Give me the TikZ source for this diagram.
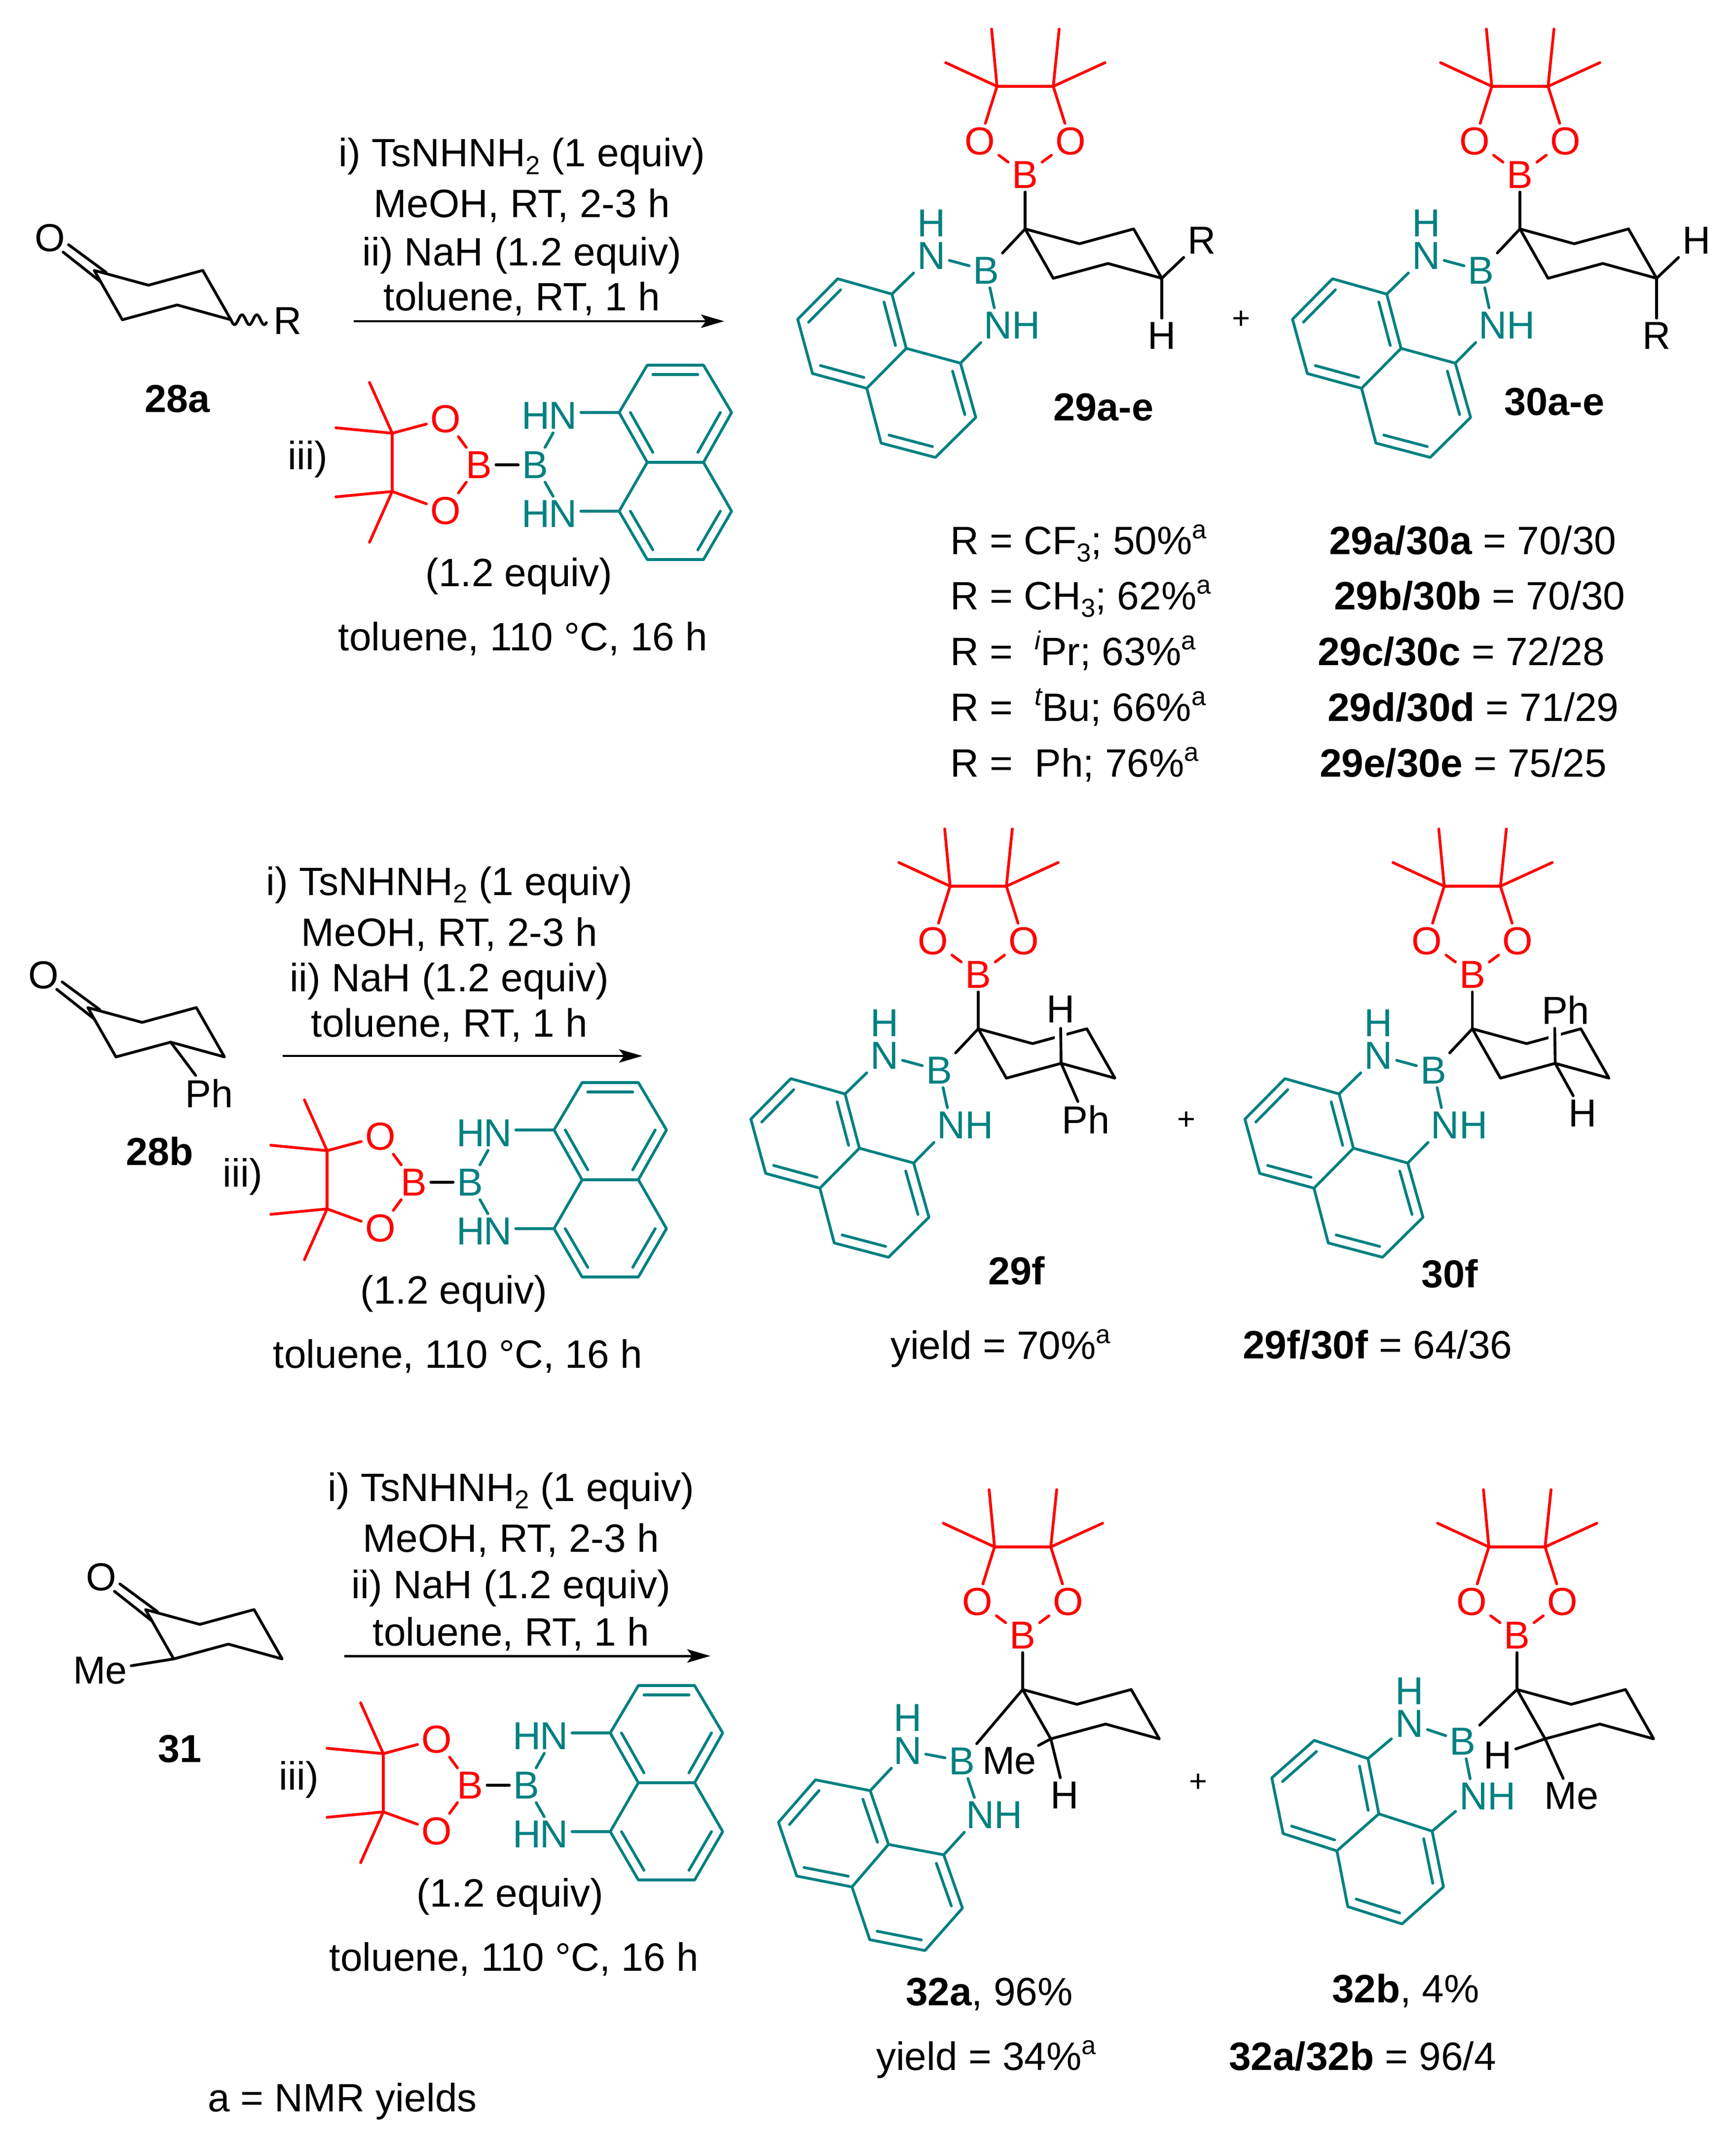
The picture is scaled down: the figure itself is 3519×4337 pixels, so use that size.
\documentclass[tikz,border=0pt]{standalone}
\usepackage{fontspec}
\setmainfont{Liberation Sans}
\usetikzlibrary{arrows.meta,calc}
\definecolor{bnteal}{RGB}{0,128,128}
\definecolor{pinred}{RGB}{255,0,0}
\newcommand{\chemsup}[1]{\raisebox{9pt}{\fontsize{15}{17}\selectfont #1}}
\newcommand{\chemsub}[1]{\raisebox{-4.5pt}{\fontsize{15}{17}\selectfont #1}}
\tikzset{
  bond/.style={line width=1.6pt,line cap=round,line join=round},
  blkbond/.style={bond,draw=black},
  redbond/.style={bond,draw=pinred},
  tealbond/.style={bond,draw=bnteal},
  halo/.style={line width=7pt,draw=white},
  atomblk/.style={inner sep=0.08cm,outer sep=0pt,text=black,font=\fontsize{22.5}{26}\selectfont},
  atomred/.style={atomblk,text=pinred},
  atomteal/.style={atomblk,text=bnteal},
  txt/.style={inner sep=0pt,outer sep=0pt,anchor=base,font=\fontsize{22.8}{27}\selectfont},
  txtl/.style={txt,anchor=base west},
  boldlbl/.style={txt,font=\fontsize{22.5}{27}\selectfont\bfseries},
  plusnode/.style={inner sep=0pt,font=\fontsize{18}{21}\selectfont},
  rxnarrow/.style={line width=1.4pt,-{Stealth[length=0.47cm,width=0.27cm,inset=0.1cm]}}
}
% chair ring, first vertex at the local origin
\newcommand{\Chair}[1]{%
  \coordinate (#1v1) at (0,0);
  \coordinate (#1v2) at (110,30);
  \coordinate (#1v3) at (220,0);
  \coordinate (#1v4) at (277,100);
  \coordinate (#1v5) at (168,70);
  \coordinate (#1v6) at (57,100);
  \draw[blkbond] (#1v1)--(#1v2)--(#1v3)--(#1v4)--(#1v5)--(#1v6)--cycle;
}
% pinacol boronate on the quaternary carbon
\newcommand{\PinUnit}[1]{%
  \node[atomred] (#1B) at (0,-110) {B};
  \node[atomred] (#1O1) at (-92,-178) {O};
  \node[atomred] (#1O2) at (92,-178) {O};
  \coordinate (#1Ca) at (-57,-289);
  \coordinate (#1Cb) at (57,-289);
  \coordinate (#1Ma) at (-68,-405);
  \coordinate (#1Mb) at (-161,-337);
  \coordinate (#1Mc) at (69,-405);
  \coordinate (#1Md) at (162,-337);
  \draw[redbond] (#1O1)--(#1Ca)--(#1Cb)--(#1O2);
  \draw[redbond] (#1Ca)--(#1Ma);
  \draw[redbond] (#1Ca)--(#1Mb);
  \draw[redbond] (#1Cb)--(#1Mc);
  \draw[redbond] (#1Cb)--(#1Md);
  \draw[redbond] (#1O1)--(#1B);
  \draw[redbond] (#1O2)--(#1B);
  \draw[blkbond] (#1B)--(#1v1);
}
\newcommand{\GeoA}[1]{%
  \coordinate (#1a) at (-270,132);
  \coordinate (#1b) at (-380,101);
  \coordinate (#1c) at (-461,183);
  \coordinate (#1d) at (-431,293);
  \coordinate (#1e) at (-321,323);
  \coordinate (#1f) at (-241,242);
  \coordinate (#1g) at (-131,272);
  \coordinate (#1h) at (-100,382);
  \coordinate (#1i) at (-182,463);
  \coordinate (#1j) at (-292,434);
}
\newcommand{\GeoB}[1]{%
  \coordinate (#1a) at (-309,205);
  \coordinate (#1b) at (-420,183);
  \coordinate (#1c) at (-495,269);
  \coordinate (#1d) at (-458,378);
  \coordinate (#1e) at (-346,400);
  \coordinate (#1f) at (-272,314);
  \coordinate (#1g) at (-160,335);
  \coordinate (#1h) at (-122,443);
  \coordinate (#1i) at (-198,529);
  \coordinate (#1j) at (-310,507);
}
\newcommand{\GeoC}[1]{%
  \coordinate (#1a) at (-302,140);
  \coordinate (#1b) at (-411,103);
  \coordinate (#1c) at (-497,179);
  \coordinate (#1d) at (-474,292);
  \coordinate (#1e) at (-365,327);
  \coordinate (#1f) at (-280,252);
  \coordinate (#1g) at (-172,287);
  \coordinate (#1h) at (-149,400);
  \coordinate (#1i) at (-233,475);
  \coordinate (#1j) at (-343,440);
}
\newcommand{\GeoR}[1]{%
  \coordinate (#1a) at (-57,-101);
  \coordinate (#1b) at (0,-197);
  \coordinate (#1c) at (114,-197);
  \coordinate (#1d) at (171,-101);
  \coordinate (#1e) at (114,0);
  \coordinate (#1f) at (0,0);
  \coordinate (#1g) at (-57,99);
  \coordinate (#1h) at (0,197);
  \coordinate (#1i) at (114,197);
  \coordinate (#1j) at (171,99);
}
\newcommand{\NaphDraw}[1]{%
  \coordinate (#1L) at ($(#1a)!.5!(#1d)$);
  \coordinate (#1M) at ($(#1g)!.5!(#1j)$);
  \draw[tealbond] (#1a)--(#1b)--(#1c)--(#1d)--(#1e)--(#1f)--cycle;
  \draw[tealbond] (#1f)--(#1g)--(#1h)--(#1i)--(#1j)--(#1e);
  \draw[tealbond] ($(#1b)!.2!(#1L)$)--($(#1c)!.2!(#1L)$);
  \draw[tealbond] ($(#1a)!.2!(#1L)$)--($(#1f)!.2!(#1L)$);
  \draw[tealbond] ($(#1d)!.2!(#1L)$)--($(#1e)!.2!(#1L)$);
  \draw[tealbond] ($(#1g)!.2!(#1M)$)--($(#1h)!.2!(#1M)$);
  \draw[tealbond] ($(#1i)!.2!(#1M)$)--($(#1j)!.2!(#1M)$);
}
% diazaborine on the quaternary carbon: B, N, H, lower N positions
\newcommand{\TealUnit}[5]{%
  \node[atomteal] (#1Bn) at #2 {B};
  \node[atomteal] (#1N1) at #3 {N};
  \node[atomteal] (#1H1) at #4 {H};
  \node[atomteal] (#1N2) at #5 {N};
  \node[atomteal] (#1H2) at ([xshift=0.57cm]#1N2) {H};
  \draw[tealbond] (#1a)--(#1N1);
  \draw[tealbond] (#1g)--(#1N2);
  \draw[tealbond] (#1N1)--(#1Bn);
  \draw[tealbond] (#1Bn)--(#1N2);
  \draw[blkbond] (#1Bn)--(#1v1);
  \NaphDraw{#1}
}
% ketone: ring, C=O, oxygen
\newcommand{\Ketone}[1]{%
  \Chair{#1}
  \node[atomblk] (#1O) at (-90,-66) {O};
  \coordinate (#1p1) at (-52,-52);
  \coordinate (#1p2) at (24,4);
  \coordinate (#1p3) at (-63,-37);
  \coordinate (#1p4) at (13,23);
  \draw[blkbond] (#1p1)--(#1p2);
  \draw[blkbond] (#1p3)--(#1p4);
}
% reagent, local origin at the naphthalene fusion carbon
\newcommand{\Reagent}[1]{%
  \GeoR{#1}
  \NaphDraw{#1}
  \coordinate (#1Ca) at (-517,-59);
  \coordinate (#1Cb) at (-517,59);
  \coordinate (#1Ma) at (-563,-162);
  \coordinate (#1Mb) at (-631,-70);
  \coordinate (#1Mc) at (-631,70);
  \coordinate (#1Md) at (-563,162);
  \node[atomred] (#1O1) at (-409,-88) {O};
  \node[atomred] (#1O2) at (-409,98) {O};
  \node[atomred] (#1B) at (-341,5) {B};
  \node[atomteal] (#1Bn) at (-227,5) {B};
  \node[atomteal] (#1N1) at (-171,-95) {N};
  \node[atomteal] (#1H1) at (-226,-95) {H};
  \node[atomteal] (#1N2) at (-171,104) {N};
  \node[atomteal] (#1H2) at (-226,104) {H};
  \draw[redbond] (#1O1)--(#1Ca)--(#1Cb)--(#1O2);
  \draw[redbond] (#1Ca)--(#1Ma);
  \draw[redbond] (#1Ca)--(#1Mb);
  \draw[redbond] (#1Cb)--(#1Mc);
  \draw[redbond] (#1Cb)--(#1Md);
  \draw[redbond] (#1O1)--(#1B);
  \draw[redbond] (#1O2)--(#1B);
  \draw[blkbond] (#1B)--(#1Bn);
  \draw[tealbond] (#1Bn)--(#1N1);
  \draw[tealbond] (#1Bn)--(#1N2);
  \draw[tealbond] (#1a)--(#1a -| #1N1.east);
  \draw[tealbond] (#1g)--(#1g -| #1N2.east);
  \node[txt] (#1iii) at (-688,14) {iii)};
  \node[txt] (#1eq) at (-260,251) {(1.2 equiv)};
  \node[txt] (#1tol) at (-252,381) {toluene, 110 °C, 16 h};
}
\begin{document}
\begin{tikzpicture}[x=0.01cm,y=-0.01cm]
\path[use as bounding box,fill=white] (0,0) rectangle (3519,4337);

% ---------- row 1 ----------
\begin{scope}[shift={(191,548)}]
  \Ketone{ka}
  \node[atomblk] (kaR) at (392,102) {R};
\end{scope}
\begin{scope}[shift={(468,648)}]
  \draw[blkbond] plot[domain=0:72,samples=60,smooth] (\x,{10*sin(\x*12)});
\end{scope}
\node[boldlbl] (l28a) at (360,836) {28a};
\node[txt] (r1a) at (1058,338) {i) TsNHNH\chemsub{2} (1 equiv)};
\node[txt] (r1b) at (1058,441) {MeOH, RT, 2-3 h};
\node[txt] (r1c) at (1058,539) {ii) NaH (1.2 equiv)};
\node[txt] (r1d) at (1058,630) {toluene, RT, 1 h};
\coordinate (a1s) at (717,651);
\coordinate (a1e) at (1468,651);
\draw[rxnarrow] (a1s)--(a1e);
\begin{scope}[shift={(1312,937)}]
  \Reagent{ra}
\end{scope}

\begin{scope}[shift={(2078,464)}]
  \Chair{pa}
  \PinUnit{pa}
  \GeoA{pa}
  \TealUnit{pa}{(-79,84)}{(-190,54)}{(-190,-12)}{(-55,195)}
  \node[atomblk] (paR) at (358,23) {R};
  \node[atomblk] (paH) at (277,216) {H};
  \draw[blkbond] (pav4)--(paR);
  \draw[blkbond] (pav4)--(paH);
\end{scope}
\node[boldlbl] (l29a) at (2237,853) {29a-e};
\node[plusnode] (plus1) at (2516,648) {+};
\begin{scope}[shift={(3081,464)}]
  \Chair{qa}
  \PinUnit{qa}
  \GeoA{qa}
  \TealUnit{qa}{(-79,84)}{(-190,54)}{(-190,-12)}{(-55,195)}
  \node[atomblk] (qaH) at (358,23) {H};
  \node[atomblk] (qaR) at (277,216) {R};
  \draw[blkbond] (qav4)--(qaH);
  \draw[blkbond] (qav4)--(qaR);
\end{scope}
\node[boldlbl] (l30a) at (3151,842) {30a-e};

\node[txtl] (t1) at (1926,1123) {R = CF\chemsub{3}; 50\%\chemsup{a}};
\node[txtl] (t2) at (1926,1235) {R = CH\chemsub{3}; 62\%\chemsup{a}};
\node[txtl] (t3) at (1926,1348) {R = \ \raisebox{9pt}{\fontsize{15}{17}\selectfont\itshape i}Pr; 63\%\chemsup{a}};
\node[txtl] (t4) at (1926,1461) {R = \ \raisebox{9pt}{\fontsize{15}{17}\selectfont\itshape t}Bu; 66\%\chemsup{a}};
\node[txtl] (t5) at (1926,1574) {R = \ Ph; 76\%\chemsup{a}};
\node[txtl] (u1) at (2694,1123) {\textbf{29a/30a} = 70/30};
\node[txtl] (u2) at (2704,1235) {\textbf{29b/30b} = 70/30};
\node[txtl] (u3) at (2671,1348) {\textbf{29c/30c} = 72/28};
\node[txtl] (u4) at (2691,1461) {\textbf{29d/30d} = 71/29};
\node[txtl] (u5) at (2675,1574) {\textbf{29e/30e} = 75/25};

% ---------- row 2 ----------
\begin{scope}[shift={(178,2042)}]
  \Ketone{kb}
  \node[atomblk] (kbPh) at (246,174) {Ph};
  \draw[blkbond] (kbv5)--(kbPh);
\end{scope}
\node[boldlbl] (l28b) at (324,2361) {28b};
\node[txt] (r2a) at (911,1814) {i) TsNHNH\chemsub{2} (1 equiv)};
\node[txt] (r2b) at (911,1917) {MeOH, RT, 2-3 h};
\node[txt] (r2c) at (911,2009) {ii) NaH (1.2 equiv)};
\node[txt] (r2d) at (911,2101) {toluene, RT, 1 h};
\coordinate (a2s) at (573,2140);
\coordinate (a2e) at (1302,2140);
\draw[rxnarrow] (a2s)--(a2e);
\begin{scope}[shift={(1180,2391)}]
  \Reagent{rb}
\end{scope}

\begin{scope}[shift={(1983,2085)}]
  \Chair{pb}
  \PinUnit{pb}
  \GeoA{pb}
  \TealUnit{pb}{(-79,84)}{(-190,54)}{(-190,-12)}{(-55,195)}
  \node[atomblk] (pbH) at (167,-40) {H};
  \node[atomblk] (pbPh) at (218,184) {Ph};
  \coordinate (pbg1) at (167,26);
  \coordinate (pbg2) at (167,2);
  \coordinate (pbt) at (167,-1);
  \draw[halo] (pbg1)--(pbg2);
  \draw[blkbond] (pbv5)--(pbt);
  \draw[blkbond] (pbv5)--(pbPh);
\end{scope}
\node[boldlbl] (l29f) at (2061,2603) {29f};
\node[plusnode] (plus2) at (2405,2271) {+};
\node[txtl] (y2) at (1805,2754) {yield = 70\%\chemsup{a}};

\begin{scope}[shift={(2984.5,2085)}]
  \Chair{qb}
  \PinUnit{qb}
  \GeoA{qb}
  \TealUnit{qb}{(-79,84)}{(-190,54)}{(-190,-12)}{(-55,195)}
  \node[atomblk] (qbPh) at (189,-38) {Ph};
  \node[atomblk] (qbH) at (224,171) {H};
  \coordinate (qbg1) at (167,26);
  \coordinate (qbg2) at (167,2);
  \coordinate (qbt) at (167,-1);
  \draw[halo] (qbg1)--(qbg2);
  \draw[blkbond] (qbv5)--(qbt);
  \draw[blkbond] (qbv5)--(qbH);
\end{scope}
\node[boldlbl] (l30f) at (2939,2609) {30f};
\node[txtl] (z2) at (2519,2753) {\textbf{29f/30f} = 64/36};

% ---------- row 3 ----------
\begin{scope}[shift={(295,3262)}]
  \Ketone{kc}
  \node[atomblk] (kcMe) at (-92,124) {Me};
  \draw[blkbond] (kcv6)--(kcMe);
\end{scope}
\node[boldlbl] (l31) at (365,3571) {31};
\node[txt] (r3a) at (1036,3042) {i) TsNHNH\chemsub{2} (1 equiv)};
\node[txt] (r3b) at (1036,3145) {MeOH, RT, 2-3 h};
\node[txt] (r3c) at (1036,3239) {ii) NaH (1.2 equiv)};
\node[txt] (r3d) at (1036,3335) {toluene, RT, 1 h};
\coordinate (a3s) at (698,3356);
\coordinate (a3e) at (1440,3356);
\draw[rxnarrow] (a3s)--(a3e);
\begin{scope}[shift={(1294,3613)}]
  \Reagent{rc}
\end{scope}

\begin{scope}[shift={(2073,3424)}]
  \Chair{pc}
  \PinUnit{pc}
  \GeoB{pc}
  \TealUnit{pc}{(-123,145)}{(-233,124)}{(-233,57)}{(-86,254)}
  \node[atomblk,inner sep=0.04cm] (pcMe) at (-27,145) {Me};
  \node[atomblk] (pcH) at (85,214) {H};
  \draw[blkbond] (pcv6)--(pcMe);
  \draw[blkbond] (pcv6)--(pcH);
\end{scope}
\node[plusnode] (plus3) at (2429,3613) {+};
\node[txtl] (l32a) at (1836,4064) {\textbf{32a}, 96\%};
\node[txtl] (y3) at (1776,4195) {yield = 34\%\chemsup{a}};

\begin{scope}[shift={(3075,3424)}]
  \Chair{qc}
  \PinUnit{qc}
  \GeoC{qc}
  \TealUnit{qc}{(-110,105)}{(-218,69)}{(-218,3)}{(-88,216)}
  \node[atomblk] (qcH) at (-39,133) {H};
  \node[atomblk] (qcMe) at (110,216) {Me};
  \draw[blkbond] (qcv6)--(qcH);
  \draw[blkbond] (qcv6)--(qcMe);
\end{scope}
\node[txtl] (l32b) at (2700,4058) {\textbf{32b}, 4\%};
\node[txtl] (z3) at (2491,4195) {\textbf{32a/32b} = 96/4};

\node[txt] (note) at (694,4279) {a = NMR yields};
\end{tikzpicture}
\end{document}
